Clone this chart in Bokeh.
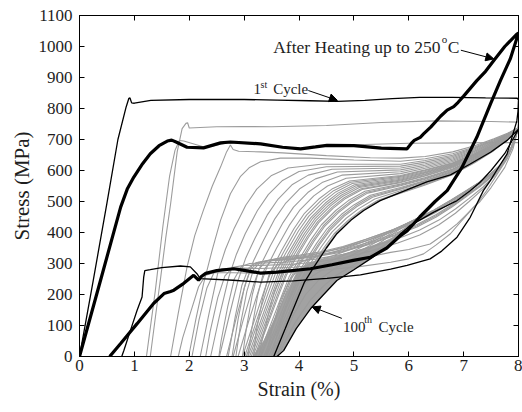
from bokeh.plotting import figure
from bokeh.models import Range1d, LinearAxis, FixedTicker, Label, Arrow, NormalHead
from bokeh.embed import file_html
from bokeh.resources import INLINE

# ---------------- data (strain %, stress MPa) ----------------
x_ticks = [0, 1, 2, 3, 4, 5, 6, 7, 8]
y_ticks = [0, 100, 200, 300, 400, 500, 600, 700, 800, 900, 1000, 1100]

# 1st cycle (thin black)
cycle_1st = [(0, 0), (0.25, 245), (0.5, 495), (0.7, 700), (0.85, 805), (0.9, 833), (0.92, 834), (0.95, 818),
             (1.0, 817), (1.3, 826), (2.0, 829), (3.0, 829), (3.6, 827), (4.2, 825), (4.7, 823), (5.2, 826),
             (5.7, 832), (6.2, 836), (6.8, 836), (7.4, 834), (7.98, 833), (8.0, 828), (7.99, 790), (7.97, 760),
             (7.79, 653), (7.6, 600), (7.49, 568), (7.36, 535), (7.12, 449), (6.88, 385), (6.6, 340), (6.39, 315),
             (5.97, 294), (5.67, 282), (5.12, 263), (4.51, 252), (3.9, 244), (3.3, 240), (2.8, 246), (2.2, 251),
             (2.14, 267), (2.02, 289), (1.84, 292), (1.5, 287), (1.29, 280), (1.19, 277), (1.17, 256), (1.14, 192),
             (1.05, 149), (0.93, 85), (0.81, 20), (0.77, 0)]

# 100th cycle (thin black)
cycle_100th = [(3.54, 0), (3.75, 90), (3.96, 181), (4.1, 240), (4.27, 288), (4.5, 350), (4.69, 396), (4.95, 440),
               (5.18, 471), (5.48, 503), (6.0, 540), (6.33, 563), (6.76, 586), (7.12, 621), (7.49, 659), (7.8, 698),
               (8.0, 733), (7.75, 655), (7.5, 600), (7.3, 562), (7.12, 535), (6.88, 503), (6.45, 465), (6.03, 423),
               (5.85, 396), (5.6, 352), (5.3, 315), (5.0, 280), (4.69, 245), (4.45, 200), (4.21, 154), (3.95, 90),
               (3.72, 19), (3.6, 0)]

# after heating up to 250 C (thick black)
after_heating = [(0, 0), (0.39, 250), (0.75, 482), (0.87, 540), (0.99, 579), (1.15, 622), (1.29, 654), (1.45, 680),
                 (1.6, 695), (1.68, 698), (1.76, 692), (1.96, 675), (2.26, 673), (2.57, 689), (2.75, 692), (3.3, 686),
                 (3.7, 675), (4.03, 670), (4.3, 676), (4.51, 681), (5.0, 680), (5.5, 672), (5.97, 670), (6.06, 690),
                 (6.1, 697), (6.21, 707), (6.27, 718), (6.4, 740), (6.58, 775), (6.7, 795), (6.82, 806), (6.9, 820),
                 (7.0, 840), (7.24, 890), (7.4, 920), (7.55, 955), (7.75, 1000), (7.97, 1040), (8.0, 1043),
                 (7.85, 960), (7.67, 890), (7.49, 815), (7.24, 707), (6.97, 610), (6.7, 535), (6.48, 500), (6.2, 450),
                 (5.97, 405), (5.85, 390), (5.6, 350), (5.3, 320), (4.99, 310), (4.6, 296), (4.21, 283), (3.6, 272),
                 (3.3, 269), (3.0, 278), (2.81, 283), (2.5, 277), (2.3, 268), (2.22, 258), (2.17, 246), (2.08, 262),
                 (1.9, 236), (1.72, 214), (1.66, 210), (1.54, 203), (1.35, 171), (1.05, 106), (0.75, 42), (0.55, 0)]

# intermediate cycles, loading branches (grey)
gl01 = [(1.29, 0), (1.40, 150), (1.48, 256), (1.57, 380), (1.66, 492), (1.78, 660), (1.87, 735), (1.94, 752),
        (1.97, 754), (2.0, 737), (2.5, 741), (3.0, 742), (3.5, 741), (4.5, 745), (5.5, 755), (6.5, 760),
        (7.5, 758), (8.0, 756)]
gl02 = [(1.22, 0), (1.38, 210), (1.52, 420), (1.64, 580), (1.74, 665), (1.82, 697), (1.9, 695), (2.3, 674),
        (2.7, 690), (3.3, 685), (4.0, 670), (4.5, 680), (5.2, 684), (6.0, 688), (7.0, 689), (8.0, 690)]
gl03 = [(1.66, 0), (1.8, 140), (1.96, 289), (2.1, 390), (2.26, 473), (2.42, 550), (2.57, 611), (2.68, 660),
        (2.75, 682), (2.8, 668), (2.9, 662), (3.3, 660), (3.7, 657), (4.5, 648), (5.3, 641), (5.85, 640),
        (6.3, 645), (6.8, 660), (7.2, 680), (7.55, 702), (7.8, 720), (8.0, 739)]
gl04 = [(1.99, 0), (2.12, 120), (2.26, 234), (2.42, 345), (2.57, 439), (2.75, 525), (2.93, 580), (3.1, 610),
        (3.3, 628), (3.66, 640), (4.2, 640), (5.0, 634), (5.85, 630), (6.3, 638), (6.8, 654), (7.2, 676),
        (7.55, 699), (7.8, 718), (8.0, 738)]
gl05 = [(2.2, 0), (2.36, 138), (2.52, 270), (2.66, 346), (2.82, 414), (3.03, 488), (3.23, 540), (3.5, 584),
        (3.8, 608), (4.4, 620), (5.85, 620), (6.3, 632), (6.8, 649), (7.2, 673), (7.55, 697), (7.8, 717), (8.0, 738)]
gl06 = [(2.39, 0), (2.55, 130), (2.72, 256), (2.86, 330), (3.02, 396), (3.24, 470), (3.44, 522), (3.7, 568),
        (4.0, 597), (4.5, 612), (5.85, 614), (6.3, 627), (6.8, 645), (7.2, 670), (7.55, 695), (7.8, 716), (8.0, 737)]
gl07 = [(2.55, 0), (2.72, 125), (2.89, 246), (3.03, 318), (3.2, 382), (3.42, 456), (3.62, 508), (3.88, 555),
        (4.17, 585), (4.6, 604), (5.85, 608), (6.3, 622), (6.8, 641), (7.2, 667), (7.55, 693), (7.8, 715), (8.0, 737)]
gl08 = [(2.68, 0), (2.85, 120), (3.03, 238), (3.17, 308), (3.34, 370), (3.56, 444), (3.76, 495), (4.02, 542),
        (4.3, 573), (4.7, 595), (5.85, 602), (6.3, 617), (6.8, 637), (7.2, 664), (7.55, 691), (7.8, 714), (8.0, 737)]
gl09 = [(2.8, 0), (2.98, 116), (3.17, 230), (3.31, 298), (3.48, 358), (3.71, 432), (3.9, 482), (4.16, 529),
        (4.42, 561), (4.78, 585), (5.85, 596), (6.3, 612), (6.8, 633), (7.2, 661), (7.55, 689), (7.8, 713), (8.0, 736)]
gl10 = [(2.89, 0), (3.08, 112), (3.28, 222), (3.42, 290), (3.59, 349), (3.82, 422), (4.01, 471), (4.27, 518),
        (4.52, 550), (4.86, 575), (5.85, 590), (6.3, 607), (6.8, 629), (7.2, 658), (7.55, 687), (7.8, 712), (8.0, 736)]
gl11 = [(2.97, 0), (3.17, 108), (3.37, 215), (3.51, 283), (3.68, 341), (3.91, 413), (4.1, 462), (4.36, 508),
        (4.6, 540), (4.92, 566), (5.85, 584), (6.3, 602), (6.8, 625), (7.2, 655), (7.55, 685), (7.8, 711), (8.0, 736)]
gl12 = [(3.04, 0), (3.24, 105), (3.45, 210), (3.59, 277), (3.76, 334), (3.99, 405), (4.18, 453), (4.44, 499),
        (4.67, 531), (4.97, 558), (5.85, 578), (6.3, 597), (6.8, 621), (7.2, 652), (7.55, 683), (7.8, 710), (8.0, 735)]
gl13 = [(3.1, 0), (3.31, 103), (3.52, 206), (3.66, 272), (3.83, 328), (4.06, 398), (4.25, 446), (4.51, 492),
        (4.74, 524), (5.04, 551), (5.85, 572), (6.3, 592), (6.8, 617), (7.2, 649), (7.55, 681), (7.8, 709), (8.0, 735)]
gl14 = [(3.16, 0), (3.37, 101), (3.58, 202), (3.72, 267), (3.89, 322), (4.12, 391), (4.31, 439), (4.57, 485),
        (4.8, 517), (5.1, 545), (5.85, 566), (6.3, 587), (6.8, 613), (7.2, 646), (7.55, 679), (7.8, 708), (8.0, 735)]
gl15 = [(3.21, 0), (3.42, 99), (3.63, 198), (3.77, 262), (3.94, 316), (4.17, 384), (4.36, 432), (4.62, 478),
        (4.85, 510), (5.15, 539), (5.85, 561), (6.3, 582), (6.8, 609), (7.2, 643), (7.55, 677), (7.8, 707), (8.0, 734)]
gl16 = [(3.26, 0), (3.47, 97), (3.68, 194), (3.82, 257), (3.99, 310), (4.22, 377), (4.41, 425), (4.67, 471),
        (4.9, 503), (5.2, 533), (5.85, 556), (6.3, 577), (6.8, 605), (7.2, 640), (7.55, 675), (7.8, 706), (8.0, 734)]
gl17 = [(3.31, 0), (3.52, 95), (3.73, 190), (3.87, 253), (4.04, 305), (4.27, 371), (4.46, 418), (4.72, 464),
        (4.95, 496), (5.25, 527), (5.85, 551), (6.3, 572), (6.8, 601), (7.2, 637), (7.55, 673), (7.8, 705), (8.0, 733)]
gl18 = [(3.36, 0), (3.57, 93), (3.78, 187), (3.92, 249), (4.09, 300), (4.32, 365), (4.51, 412), (4.77, 458),
        (5.0, 489), (5.3, 520), (5.85, 545), (6.3, 568), (6.8, 598), (7.2, 634), (7.55, 671), (7.8, 704), (8.0, 733)]
gl19 = [(3.41, 0), (3.62, 92), (3.83, 185), (3.97, 246), (4.14, 296), (4.37, 360), (4.56, 406), (4.82, 452),
        (5.05, 483), (5.34, 514), (5.85, 540), (6.3, 564), (6.8, 594), (7.2, 631), (7.55, 669), (7.8, 703), (8.0, 732)]
gl20 = [(3.45, 0), (3.66, 91), (3.87, 183), (4.01, 243), (4.18, 292), (4.41, 355), (4.6, 401), (4.86, 446),
        (5.09, 477), (5.38, 508), (5.85, 535), (6.3, 560), (6.8, 591), (7.2, 629), (7.55, 667), (7.8, 702), (8.0, 732)]
gl21 = [(3.49, 0), (3.7, 90), (3.91, 181), (4.05, 240), (4.22, 288), (4.45, 350), (4.64, 396), (4.9, 440),
        (5.13, 471), (5.43, 503), (5.85, 530), (6.3, 556), (6.8, 588), (7.2, 627), (7.55, 666), (7.8, 701), (8.0, 731)]
gl22 = [(3.01, 0), (3.21, 106), (3.41, 212), (3.55, 280), (3.72, 337), (3.95, 409), (4.14, 457), (4.4, 503),
        (4.63, 535), (4.94, 562), (5.85, 581), (6.3, 600), (6.8, 623), (7.2, 653), (7.55, 684), (7.8, 710), (8.0, 735)]
gl23 = [(3.07, 0), (3.28, 104), (3.49, 208), (3.63, 274), (3.8, 331), (4.03, 401), (4.22, 449), (4.48, 495),
        (4.71, 527), (5.01, 554), (5.85, 575), (6.3, 594), (6.8, 619), (7.2, 650), (7.55, 682), (7.8, 709), (8.0, 735)]
gl24 = [(3.13, 0), (3.34, 102), (3.55, 204), (3.69, 270), (3.86, 325), (4.09, 394), (4.28, 442), (4.54, 488),
        (4.77, 520), (5.07, 548), (5.85, 569), (6.3, 589), (6.8, 615), (7.2, 647), (7.55, 680), (7.8, 708), (8.0, 735)]
gl25 = [(3.19, 0), (3.4, 100), (3.61, 200), (3.75, 264), (3.92, 319), (4.15, 387), (4.34, 435), (4.6, 481),
        (4.83, 513), (5.13, 541), (5.85, 563), (6.3, 584), (6.8, 611), (7.2, 644), (7.55, 678), (7.8, 707), (8.0, 734)]
gl26 = [(3.29, 0), (3.5, 96), (3.71, 192), (3.85, 255), (4.02, 307), (4.25, 374), (4.44, 421), (4.7, 467),
        (4.93, 499), (5.23, 530), (5.85, 553), (6.3, 574), (6.8, 603), (7.2, 638), (7.55, 674), (7.8, 705), (8.0, 733)]
gl27 = [(3.39, 0), (3.6, 92), (3.81, 186), (3.95, 247), (4.12, 298), (4.35, 362), (4.54, 409), (4.8, 455),
        (5.03, 486), (5.32, 517), (5.85, 542), (6.3, 566), (6.8, 596), (7.2, 632), (7.55, 670), (7.8, 703), (8.0, 732)]
gl28 = [(3.52, 0), (3.73, 90), (3.94, 181), (4.08, 240), (4.25, 288), (4.48, 350), (4.67, 396), (4.93, 440),
        (5.16, 471), (5.46, 503), (5.85, 527), (6.3, 553), (6.8, 586), (7.2, 625), (7.55, 664), (7.8, 700), (8.0, 731)]

# intermediate cycles, unloading branches (grey)
gu01 = [(8.0, 756), (7.97, 720), (7.9, 670), (7.75, 610), (7.5, 545), (7.3, 500), (7.18, 481), (6.95, 435),
        (6.76, 396), (6.5, 360), (6.27, 331), (6.0, 315), (5.67, 304), (5.1, 290), (4.5, 280), (3.9, 272),
        (3.3, 268), (2.8, 270), (2.45, 270), (2.3, 262), (2.17, 225), (2.02, 140), (1.88, 60), (1.8, 0)]
gu02 = [(8.0, 740), (7.92, 690), (7.8, 640), (7.6, 585), (7.4, 530), (7.24, 492), (7.05, 458), (6.88, 428),
        (6.65, 395), (6.39, 363), (6.0, 345), (5.67, 336), (5.1, 315), (4.5, 298), (3.9, 288), (3.3, 284),
        (2.9, 285), (2.6, 283), (2.45, 270), (2.32, 220), (2.18, 120), (2.05, 0)]
gu03 = [(8.0, 738), (7.9, 685), (7.75, 630), (7.55, 580), (7.35, 540), (7.1, 500), (6.85, 462), (6.55, 425),
        (6.2, 392), (5.8, 366), (5.3, 340), (4.8, 318), (4.3, 304), (3.8, 297), (3.3, 294), (3.0, 294),
        (2.8, 288), (2.65, 260), (2.52, 190), (2.38, 80), (2.3, 0)]
gu04 = [(8.0, 737), (7.9, 680), (7.75, 628), (7.55, 582), (7.35, 546), (7.1, 510), (6.85, 476), (6.55, 440),
        (6.2, 408), (5.8, 380), (5.3, 352), (4.8, 330), (4.3, 314), (3.8, 305), (3.4, 302), (3.1, 300),
        (2.95, 290), (2.82, 250), (2.7, 160), (2.58, 50), (2.54, 0)]
gu05 = [(8.0, 737), (7.88, 676), (7.72, 625), (7.52, 582), (7.3, 548), (7.05, 516), (6.8, 484), (6.5, 450),
        (6.15, 418), (5.75, 390), (5.25, 360), (4.75, 336), (4.25, 320), (3.8, 312), (3.45, 308), (3.22, 303),
        (3.08, 285), (2.96, 230), (2.84, 130), (2.74, 30), (2.71, 0)]
gu06 = [(8.0, 736), (7.88, 674), (7.72, 624), (7.52, 584), (7.3, 552), (7.05, 522), (6.8, 491), (6.5, 458),
        (6.15, 426), (5.75, 397), (5.25, 367), (4.75, 342), (4.3, 326), (3.85, 317), (3.5, 313), (3.3, 305),
        (3.17, 280), (3.05, 210), (2.94, 110), (2.85, 0)]
gu07 = [(8.0, 736), (7.87, 672), (7.7, 622), (7.5, 585), (7.28, 555), (7.03, 526), (6.78, 497), (6.48, 464),
        (6.12, 432), (5.72, 403), (5.22, 373), (4.75, 348), (4.35, 332), (3.95, 322), (3.6, 316), (3.4, 308),
        (3.27, 282), (3.15, 200), (3.04, 90), (2.97, 0)]
gu08 = [(8.0, 735), (7.86, 670), (7.7, 622), (7.5, 588), (7.28, 558), (7.03, 530), (6.78, 502), (6.48, 470),
        (6.12, 438), (5.72, 409), (5.22, 378), (4.8, 355), (4.4, 338), (4.02, 327), (3.7, 320), (3.5, 310),
        (3.37, 282), (3.25, 200), (3.14, 90), (3.07, 0)]
gu09 = [(8.0, 735), (7.86, 668), (7.69, 620), (7.49, 587), (7.27, 558), (7.03, 531), (6.78, 503), (6.47, 471),
        (6.1, 440), (5.72, 410), (5.3, 378), (4.9, 352), (4.5, 330), (4.15, 312), (3.9, 295), (3.7, 268),
        (3.55, 210), (3.42, 120), (3.3, 30), (3.27, 0)]
gu10 = [(8.0, 735), (7.85, 666), (7.68, 619), (7.48, 587), (7.26, 559), (7.02, 532), (6.77, 505), (6.46, 473),
        (6.09, 440), (5.75, 410), (5.4, 376), (5.05, 345), (4.7, 318), (4.4, 296), (4.15, 272), (3.95, 230),
        (3.77, 160), (3.6, 70), (3.5, 0)]
gu11 = [(8.0, 734), (7.85, 664), (7.68, 618), (7.48, 586), (7.26, 558), (7.02, 530), (6.77, 502), (6.46, 470),
        (6.08, 436), (5.8, 406), (5.5, 370), (5.2, 338), (4.9, 308), (4.6, 278), (4.35, 245), (4.12, 200),
        (3.9, 135), (3.72, 60), (3.6, 0)]
gu12 = [(8.0, 734), (7.84, 662), (7.67, 616), (7.47, 584), (7.25, 556), (7.01, 528), (6.75, 498), (6.44, 466),
        (6.06, 430), (5.85, 404), (5.58, 362), (5.28, 326), (4.98, 294), (4.68, 262), (4.44, 226), (4.2, 180),
        (3.95, 115), (3.72, 40), (3.62, 0)]
gu13 = [(8.0, 735), (7.86, 669), (7.69, 621), (7.49, 588), (7.27, 559), (7.03, 531), (6.78, 503), (6.47, 471),
        (6.11, 439), (5.72, 410), (5.25, 380), (4.85, 355), (4.45, 336), (4.1, 322), (3.8, 310), (3.6, 295),
        (3.45, 262), (3.34, 190), (3.22, 80), (3.17, 0)]
gu14 = [(8.0, 735), (7.85, 667), (7.68, 620), (7.48, 587), (7.26, 558), (7.02, 531), (6.77, 504), (6.46, 472),
        (6.1, 440), (5.74, 410), (5.35, 377), (4.98, 348), (4.6, 324), (4.28, 305), (4.02, 285), (3.84, 250),
        (3.66, 180), (3.5, 80), (3.4, 0)]
gu15 = [(8.0, 734), (7.85, 665), (7.68, 618), (7.48, 586), (7.26, 558), (7.02, 531), (6.77, 503), (6.46, 471),
        (6.08, 438), (5.78, 408), (5.45, 373), (5.12, 341), (4.8, 313), (4.5, 288), (4.25, 260), (4.03, 218),
        (3.84, 150), (3.66, 65), (3.55, 0)]
gu16 = [(8.0, 736), (7.88, 675), (7.72, 624), (7.52, 583), (7.3, 550), (7.05, 519), (6.8, 487), (6.5, 454),
        (6.15, 422), (5.75, 393), (5.25, 363), (4.75, 339), (4.28, 323), (3.82, 314), (3.48, 310), (3.26, 304),
        (3.12, 282), (3.0, 220), (2.89, 120), (2.78, 0)]

# densest part of the grey cycles (outline)
dense_core = [(3.15, 0), (3.6, 0), (3.72, 19), (3.95, 90), (4.21, 154), (4.45, 200), (4.69, 245), (5.0, 280),
              (5.3, 315), (5.6, 352), (5.85, 396), (5.55, 372), (5.1, 344), (4.6, 322), (4.2, 305), (3.95, 270),
              (3.75, 200), (3.55, 120), (3.35, 50)]

gray_loading = [gl01, gl02, gl03, gl04, gl05, gl06, gl07, gl08, gl09, gl10, gl11, gl12, gl13, gl14,
                gl15, gl16, gl17, gl18, gl19, gl20, gl21, gl22, gl23, gl24, gl25, gl26, gl27, gl28]
gray_unloading = [gu01, gu02, gu03, gu04, gu05, gu06, gu07, gu08, gu09, gu10, gu11, gu12,
                  gu13, gu14, gu15, gu16]


def xs_of(c):
    return [pt[0] for pt in c]


def ys_of(c):
    return [pt[1] for pt in c]


FONT = "Liberation Serif"
TXT = "#1e1e1e"
GREY = "#9c9c9c"

p = figure(width=522, height=412, output_backend="svg", toolbar_location=None,
           x_range=Range1d(0, 8), y_range=Range1d(0, 1100),
           min_border_left=79, min_border_right=4, min_border_top=15, min_border_bottom=56)
p.xgrid.visible = False
p.ygrid.visible = False
p.outline_line_color = "black"
p.outline_line_width = 1
p.background_fill_color = "white"
p.border_fill_color = "white"

p.xaxis.ticker = FixedTicker(ticks=x_ticks)
p.yaxis.ticker = FixedTicker(ticks=y_ticks)
p.xaxis.axis_label = "Strain (%)"
p.yaxis.axis_label = "Stress (MPa)"
for ax in [p.xaxis[0], p.yaxis[0]]:
    ax.axis_line_color = "black"
    ax.major_tick_in = 5
    ax.major_tick_out = 0
    ax.minor_tick_in = 0
    ax.minor_tick_out = 0
    ax.major_tick_line_color = "black"
    ax.major_label_text_font = FONT
    ax.major_label_text_font_size = "17px"
    ax.major_label_text_color = TXT
    ax.axis_label_text_font = FONT
    ax.axis_label_text_font_style = "normal"
    ax.axis_label_text_color = TXT
p.xaxis.major_label_standoff = 3
p.yaxis.major_label_standoff = 7
p.xaxis.axis_label_text_font_size = "20px"
p.yaxis.axis_label_text_font_size = "21px"
p.xaxis.axis_label_standoff = 4
p.yaxis.axis_label_standoff = 2

top_ax = LinearAxis(ticker=FixedTicker(ticks=x_ticks), major_label_overrides={t: "" for t in x_ticks},
                    major_label_text_font_size="8px",
                    major_tick_in=5, major_tick_out=0, minor_tick_in=0, minor_tick_out=0,
                    major_label_standoff=0, axis_line_color="black")
right_ax = LinearAxis(ticker=FixedTicker(ticks=y_ticks), major_label_overrides={t: "" for t in y_ticks},
                      major_label_text_font_size="8px",
                      major_tick_in=5, major_tick_out=0, minor_tick_in=0, minor_tick_out=0,
                      major_label_standoff=0, axis_line_color="black")
p.add_layout(top_ax, "above")
p.add_layout(right_ax, "right")

# grey intermediate cycles
p.patch(xs_of(dense_core), ys_of(dense_core), fill_color="#a2a2a2", line_color=None)
p.multi_line([xs_of(c) for c in gray_loading], [ys_of(c) for c in gray_loading],
             line_color=GREY, line_width=1.1)
p.multi_line([xs_of(c) for c in gray_unloading], [ys_of(c) for c in gray_unloading],
             line_color=GREY, line_width=1.1)

# black curves
p.line(xs_of(cycle_1st), ys_of(cycle_1st), line_color="black", line_width=1.3)
p.line(xs_of(cycle_100th), ys_of(cycle_100th), line_color="black", line_width=1.3)
p.line(xs_of(after_heating), ys_of(after_heating), line_color="black", line_width=3.2)

# annotations
p.add_layout(Label(x=3.53, y=999, text="After Heating up to 250", text_font=FONT, text_font_size="17.5px",
                   text_color=TXT, text_baseline="alphabetic"))
p.add_layout(Label(x=6.6, y=1023, text="o", text_font=FONT, text_font_size="11px",
                   text_color=TXT, text_baseline="alphabetic"))
p.add_layout(Label(x=6.71, y=999, text="C", text_font=FONT, text_font_size="17.5px",
                   text_color=TXT, text_baseline="alphabetic"))
p.add_layout(Arrow(x_start=6.95, y_start=988, x_end=7.55, y_end=960, line_width=1, line_color="black",
                   end=NormalHead(size=8, fill_color="black", line_color="black")))

p.add_layout(Label(x=3.17, y=864, text="1", text_font=FONT, text_font_size="15px",
                   text_color=TXT, text_baseline="alphabetic"))
p.add_layout(Label(x=3.3, y=879, text="st", text_font=FONT, text_font_size="10px",
                   text_color=TXT, text_baseline="alphabetic"))
p.add_layout(Label(x=3.53, y=864, text="Cycle", text_font=FONT, text_font_size="15px",
                   text_color=TXT, text_baseline="alphabetic"))
p.add_layout(Arrow(x_start=4.17, y_start=858, x_end=4.7, y_end=826, line_width=1, line_color="black",
                   end=NormalHead(size=8, fill_color="black", line_color="black")))

p.add_layout(Label(x=4.8, y=96, text="100", text_font=FONT, text_font_size="15px",
                   text_color=TXT, text_baseline="alphabetic"))
p.add_layout(Label(x=5.19, y=118, text="th", text_font=FONT, text_font_size="10px",
                   text_color=TXT, text_baseline="alphabetic"))
p.add_layout(Label(x=5.45, y=96, text="Cycle", text_font=FONT, text_font_size="15px",
                   text_color=TXT, text_baseline="alphabetic"))
p.add_layout(Arrow(x_start=4.78, y_start=123, x_end=4.24, y_end=160, line_width=1, line_color="black",
                   end=NormalHead(size=8, fill_color="black", line_color="black")))

open("out.html", "w").write(file_html(p, INLINE))
